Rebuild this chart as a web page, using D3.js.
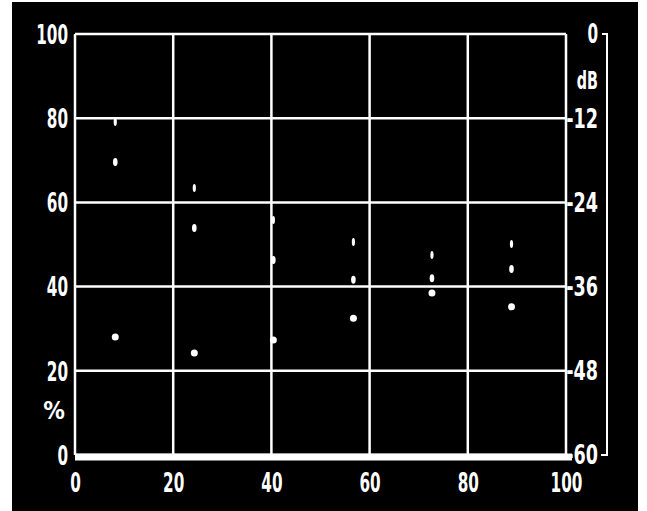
<!DOCTYPE html>
<html>
<head>
<meta charset="utf-8">
<script src="https://cdn.jsdelivr.net/npm/d3@7"></script>
<style>
  html, body { margin: 0; padding: 0; background: #fff; }
  svg { display: block; }
  text { font-family: "Liberation Sans Narrow", "DejaVu Sans Condensed", sans-serif; font-weight: bold; fill: #fff; }
</style>
</head>
<body>
<svg id="chart"></svg>
<script>
let width = 647;
let height = 511;

// values
let xTicks = [0, 20, 40, 60, 80, 100];
let pctTicks = [0, 20, 40, 60, 80, 100];
let dbTicks = [0, -12, -24, -36, -48, -60];
let xPos = [8.2, 24.3, 40.4, 56.7, 72.7, 88.9];
let upper = [79.1, 63.4, 55.8, 50.6, 47.5, 50.1];
let middle = [69.6, 53.9, 46.3, 41.6, 42.0, 44.2];
let lower = [28.0, 24.2, 27.3, 32.5, 38.5, 35.2];

let plotLeft = 75, plotRight = 566, plotTop = 34, plotBottom = 455;
let charW = 10.6;

let x = d3.scaleLinear().domain([0, 100]).range([plotLeft, plotRight]);
let y = d3.scaleLinear().domain([0, 100]).range([plotBottom, plotTop]);
let yDb = d3.scaleLinear().domain([-60, 0]).range([plotBottom, plotTop]);

let svg = d3.select("#chart")
    .attr("width", width)
    .attr("height", height);

svg.append("rect")
    .attr("x", 12).attr("y", 2)
    .attr("width", 626).attr("height", 509)
    .attr("fill", "#000");

// grid
let grid = svg.append("g").attr("stroke", "#fff").attr("stroke-width", 2.5);
grid.selectAll("line.v")
    .data(xTicks)
    .enter().append("line")
    .attr("class", "v")
    .attr("x1", d => x(d)).attr("x2", d => x(d))
    .attr("y1", plotTop).attr("y2", plotBottom);
grid.selectAll("line.h")
    .data(pctTicks)
    .enter().append("line")
    .attr("class", "h")
    .attr("x1", plotLeft).attr("x2", plotRight)
    .attr("y1", d => y(d)).attr("y2", d => y(d));

// thick baseline
svg.append("line")
    .attr("x1", plotLeft).attr("x2", plotRight + 6)
    .attr("y1", y(0) + 2).attr("y2", y(0) + 2)
    .attr("stroke", "#fff").attr("stroke-width", 7);

// dB bracket
svg.append("path")
    .attr("d", "M602," + plotTop + "H607V" + plotBottom + "H601")
    .attr("fill", "none").attr("stroke", "#fff").attr("stroke-width", 2);

function squeeze(sel) {
    sel.attr("textLength", function () { return this.textContent.length * charW; })
        .attr("lengthAdjust", "spacingAndGlyphs");
}

// left axis (%)
let leftAxis = svg.append("g")
    .attr("transform", "translate(" + plotLeft + ",0)")
    .call(d3.axisLeft(y).tickValues(pctTicks).tickSize(0).tickPadding(7).tickFormat(d => String(d)));
leftAxis.attr("font-family", null).attr("font-size", null);
leftAxis.select(".domain").remove();
leftAxis.selectAll("text")
    .attr("fill", "#fff").attr("font-size", 26)
    .attr("dy", "0.36em")
    .call(squeeze);

// bottom axis
let bottomAxis = svg.append("g")
    .attr("transform", "translate(0," + plotBottom + ")")
    .call(d3.axisBottom(x).tickValues(xTicks).tickSize(0).tickPadding(19).tickFormat(d => String(d)));
bottomAxis.attr("font-family", null).attr("font-size", null);
bottomAxis.select(".domain").remove();
bottomAxis.selectAll("text")
    .attr("fill", "#fff").attr("font-size", 26)
    .call(squeeze);

// right axis (dB)
let rightAxis = svg.append("g")
    .attr("transform", "translate(" + plotRight + ",0)")
    .call(d3.axisRight(yDb).tickValues(dbTicks).tickSize(0).tickFormat(d => String(d)));
rightAxis.attr("font-family", null).attr("font-size", null);
rightAxis.select(".domain").remove();
rightAxis.selectAll("text")
    .attr("fill", "#fff").attr("font-size", 26)
    .attr("x", 32).attr("text-anchor", "end")
    .attr("dy", "0.34em")
    .call(squeeze);

svg.append("text")
    .attr("x", 598).attr("y", 80).attr("dy", "0.36em")
    .attr("text-anchor", "end").attr("font-size", 24)
    .text("dB").call(squeeze);

svg.append("text")
    .attr("x", 54).attr("y", 410).attr("dy", "0.36em")
    .attr("text-anchor", "middle").attr("font-size", 24)
    .text("%");

// points
let marks = svg.append("g").attr("fill", "#fff");
marks.selectAll("ellipse.up")
    .data(upper)
    .enter().append("ellipse")
    .attr("class", "up")
    .attr("cx", (d, i) => x(xPos[i])).attr("cy", d => y(d))
    .attr("rx", 1.6).attr("ry", 4);
marks.selectAll("ellipse.mid")
    .data(middle)
    .enter().append("ellipse")
    .attr("class", "mid")
    .attr("cx", (d, i) => x(xPos[i])).attr("cy", d => y(d))
    .attr("rx", 2.3).attr("ry", 4);
marks.selectAll("circle.low")
    .data(lower)
    .enter().append("circle")
    .attr("class", "low")
    .attr("cx", (d, i) => x(xPos[i])).attr("cy", d => y(d))
    .attr("r", 3.5);
</script>
</body>
</html>
